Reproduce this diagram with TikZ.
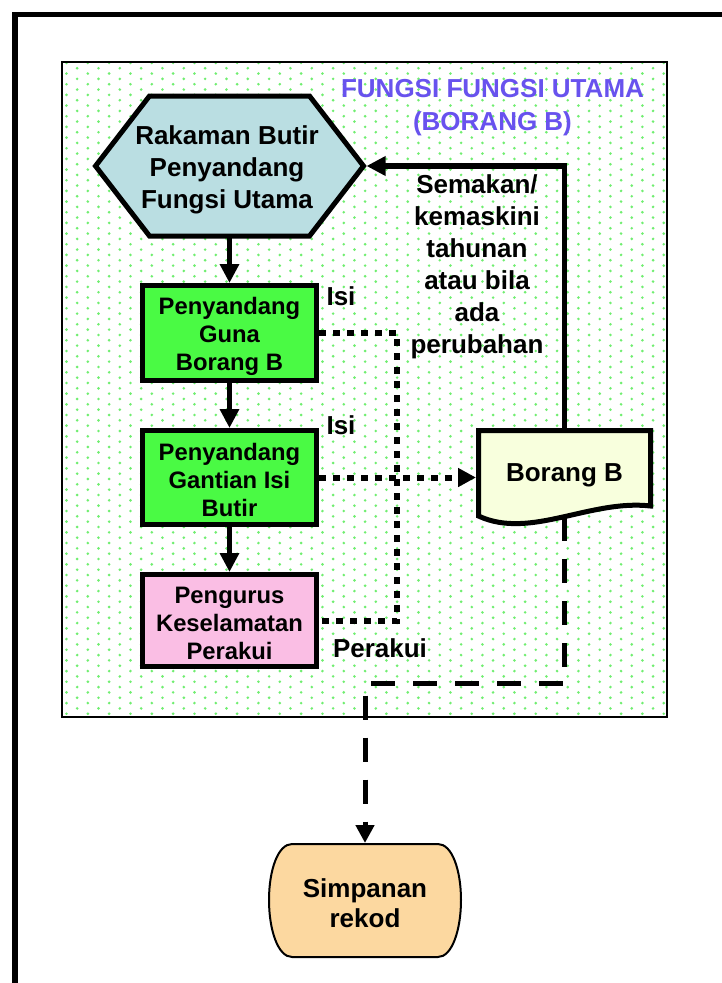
\documentclass[tikz,border=0pt]{standalone}
\usepackage{fontspec}
\setmainfont{Liberation Sans}
\usetikzlibrary{arrows.meta,calc,patterns}
\pgfdeclarelayer{back}
\pgfdeclarelayer{shapes}
\pgfsetlayers{back,shapes,main}
\pgfdeclarepatternformonly{gdots}{\pgfqpoint{-1pt}{-1pt}}{\pgfqpoint{22.33pt}{11.67pt}}{\pgfqpoint{21.33pt}{10.67pt}}{%
\pgfpathcircle{\pgfqpoint{2.5pt}{2.5pt}}{1.45pt}%
\pgfpathcircle{\pgfqpoint{13.17pt}{7.83pt}}{1.45pt}%
\pgfusepath{fill}}
\definecolor{hexfill}{RGB}{186,222,226}
\definecolor{boxgreen}{RGB}{74,250,68}
\definecolor{boxpink}{RGB}{250,190,228}
\definecolor{docfill}{RGB}{248,255,221}
\definecolor{simpfill}{RGB}{252,216,160}
\definecolor{dotgreen}{RGB}{112,238,112}
\definecolor{titleblue}{RGB}{104,82,238}
\newcommand{\txtpad}[1]{\rule{0pt}{#1}}
\begin{document}
\begin{tikzpicture}[x=1pt,y=-1pt,
  bigtext/.style={font=\fontsize{26}{32}\selectfont\bfseries, align=center, inner sep=0pt},
  boxtext/.style={font=\fontsize{23.8}{28}\selectfont\bfseries, align=center, inner sep=0pt},
  procbox/.style={boxtext, draw, line width=5pt, minimum width=174pt},
  flowarrow/.style={line width=5.5pt, -{Triangle[width=18.5pt,length=19pt]}},
  dotline/.style={line width=6pt, dash pattern=on 6.5pt off 7.5pt},
  dashline/.style={line width=5pt, dash pattern=on 24pt off 18pt}]
\useasboundingbox (0,0) rectangle (721,983);
% outer frame
\draw[line width=5.5pt] (15,1000) -- (15,14.5) -- (740,14.5);
% inner dotted panel
\begin{pgfonlayer}{back}
\filldraw[fill=white, draw=black, line width=2pt] (62,62) rectangle (667,717);
\fill[pattern=gdots, pattern color=dotgreen] (63,63) rectangle (666,716);
\end{pgfonlayer}
% title
\node[text=titleblue, align=center, inner sep=0pt, font=\fontsize{26}{33}\selectfont\bfseries] (title) at (492.5,107.5) {FUNGSI FUNGSI UTAMA\\(BORANG B)};
% hexagon
\node[minimum width=160pt, minimum height=140pt, outer sep=0pt, inner sep=0pt] (hex) at (229.5,166) {};
\node[bigtext] (hextxt) at (227,166) {\txtpad{27pt}Rakaman Butir\\Penyandang\\Fungsi Utama};
\begin{pgfonlayer}{shapes}
\filldraw[fill=hexfill, draw=black, line width=5pt] (hex.north west) -- (hex.north east) -- ($(hex.east)+(54,0)$) -- (hex.south east) -- (hex.south west) -- ($(hex.west)+(-54,0)$) -- cycle;
\end{pgfonlayer}
\coordinate (hexR) at ($(hex.east)+(57,0)$);
% process boxes
\node[procbox, fill=boxgreen, minimum height=95pt] (b1) at (229.5,333) {\txtpad{25pt}Penyandang\\Guna\\Borang B};
\node[procbox, fill=boxgreen, minimum height=94pt] (b2) at (229.5,477.5) {\txtpad{21.5pt}Penyandang\\Gantian Isi\\Butir};
\node[procbox, fill=boxpink, minimum height=92pt] (b3) at (229.5,620.5) {\txtpad{21.5pt}Pengurus\\Keselamatan\\Perakui};
% document
\node[bigtext, minimum width=172pt, minimum height=83pt, outer sep=2.5pt] (bor) at (564.5,472) {\txtpad{25pt}Borang B};
\begin{pgfonlayer}{shapes}
\filldraw[fill=docfill, draw=black, line width=5pt] (478.5,430.5) -- (650.5,430.5) -- (650.5,506) .. controls (590,499) and (530,540) .. (478.5,516) -- cycle;
\end{pgfonlayer}
\coordinate (borBot) at (564.5,517);
% storage
\node[bigtext, font=\fontsize{26}{30}\selectfont\bfseries, minimum width=190pt, minimum height=113pt, outer sep=1pt] (simp) at (365,900.5) {\txtpad{23.5pt}Simpanan\\rekod};
\begin{pgfonlayer}{shapes}
\filldraw[fill=simpfill, draw=black, line width=2pt] (292,844) -- (438,844) .. controls (452,844) and (461,870) .. (461,900) .. controls (461,930) and (452,957) .. (438,957) -- (292,957) .. controls (278,957) and (269,930) .. (269,900) .. controls (269,870) and (278,844) .. (292,844) -- cycle;
\end{pgfonlayer}
% labels
\node[bigtext] (isi1) at (341,296) {Isi};
\node[bigtext] (isi2) at (341,425) {Isi};
\node[bigtext] (perakui) at (380,648) {Perakui};
\node[bigtext] (semakan) at (477,264.5) {\txtpad{23pt}Semakan/\\kemaskini\\tahunan\\atau bila\\ada\\perubahan};
% connectors
\draw[flowarrow] (hex.south) -- (b1.north);
\draw[flowarrow] (b1.south) -- (b2.north);
\draw[flowarrow] (b2.south) -- (b3.north);
\draw[flowarrow] (bor.north) |- (hexR);
\coordinate (dvx) at (397,477.5);
\draw[dotline] (b1.east) -| (dvx) |- (b3.east);
\draw[dotline, -{Triangle[width=18pt,length=18pt]}] (b2.east) -- (b2.east -| bor.west);
\coordinate (dcorner) at (365,683);
\draw[dashline, -{Triangle[width=18pt,length=18pt]}] (borBot) |- (dcorner) -- (simp.north);
\end{tikzpicture}
\end{document}
